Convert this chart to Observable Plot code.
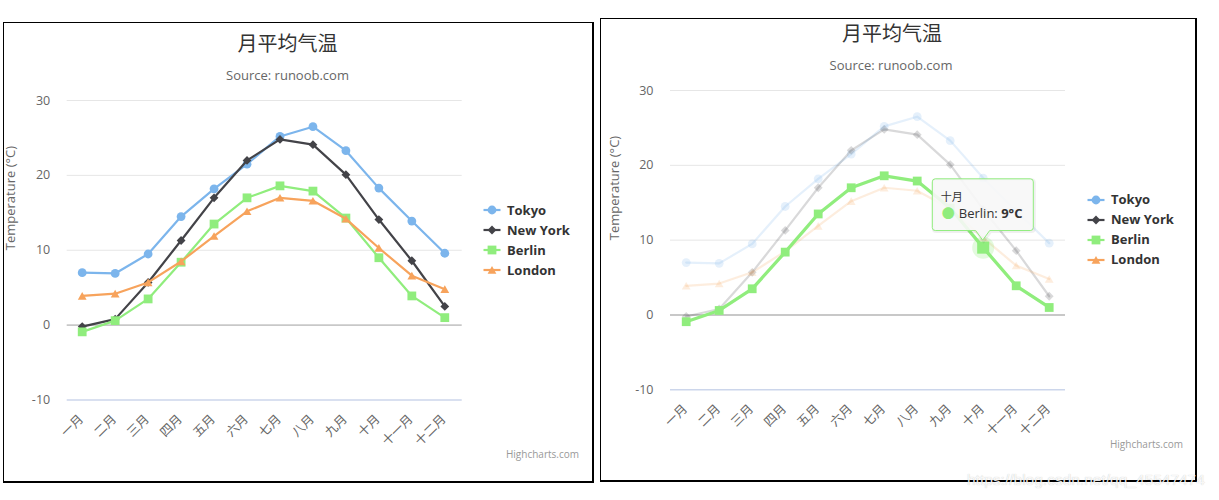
<!DOCTYPE html>
<html>
<head>
<meta charset="utf-8">
<script src="https://cdn.jsdelivr.net/npm/d3@7"></script>
<script src="https://cdn.jsdelivr.net/npm/@observablehq/plot@0.6"></script>
<style>
html, body { margin: 0; padding: 0; background: #fff; }
#root { position: relative; width: 1219px; height: 500px; overflow: hidden;
  font-family: "Open Sans", "Noto Sans CJK SC", sans-serif; }
.panel { position: absolute; box-sizing: border-box; border-style: solid; border-color: #000;
  border-width: 1px 2px 2px 1px; }
.abs { position: absolute; white-space: nowrap; line-height: 1; }
.title { font-size: 20px; color: #333; transform: translate(-50%, -50%); font-family: "Noto Sans CJK SC", sans-serif; }
.subtitle { font-size: 13px; color: #666; transform: translate(-50%, -50%); }
.credits { font-size: 10px; color: #999; transform: translate(-100%, -50%); }
.legend-item { display: flex; align-items: center; transform: translateY(-50%); }
.legend-item span { font-weight: bold; font-size: 13px; color: #333; margin-left: 6px; }
.plotsvg { position: absolute; }
.tip-text { position: absolute; white-space: nowrap; color: #333; line-height: 1; }
.watermark { position: absolute; font-family: "Liberation Sans", Arial, sans-serif; font-size: 15.5px;
  color: rgba(255,255,255,0.9); text-shadow: 0 0 1px rgba(0,0,0,0.25); white-space: nowrap; line-height: 1; }
</style>
</head>
<body>
<div id="root"></div>
<script>
// ---------------- data ----------------
const months = ["一月", "二月", "三月", "四月", "五月", "六月", "七月", "八月", "九月", "十月", "十一月", "十二月"];
const tokyo   = [7.0, 6.9, 9.5, 14.5, 18.2, 21.5, 25.2, 26.5, 23.3, 18.3, 13.9, 9.6];
const newYork = [-0.2, 0.8, 5.7, 11.3, 17.0, 22.0, 24.8, 24.1, 20.1, 14.1, 8.6, 2.5];
const berlin  = [-0.9, 0.6, 3.5, 8.4, 13.5, 17.0, 18.6, 17.9, 14.3, 9.0, 3.9, 1.0];
const london  = [3.9, 4.2, 5.7, 8.5, 11.9, 15.2, 17.0, 16.6, 14.2, 10.3, 6.6, 4.8];
const seriesNames  = ["Tokyo", "New York", "Berlin", "London"];
const seriesValues = [tokyo, newYork, berlin, london];
const seriesColors = ["#7cb5ec", "#434348", "#90ed7d", "#f7a35c"];
const yTicks = [-10, 0, 10, 20, 30];
const titleText = "月平均气温";
const subtitleText = "Source: runoob.com";
const yTitle = "Temperature (°C)";
const valueSuffix = "°C";
const creditsText = "Highcharts.com";
const hoverSeries = 2;   // Berlin
const hoverIndex = 9;    // 十月

// marker shapes (Highcharts default sequence)
const seriesSymbols = [d3.symbolCircle, d3.symbolDiamond2, d3.symbolSquare, d3.symbolTriangle];
const seriesR = [4.4, 3.97, 4.96, 3.27];
const seriesDy = [0, 0, 0, 1.2];

const rows = seriesNames.map((name, s) =>
  months.map((m, i) => ({series: name, s, month: m, value: seriesValues[s][i]})));

const root = document.getElementById("root");

function el(tag, cls, parent, styles, text) {
  const e = document.createElement(tag);
  if (cls) e.className = cls;
  Object.assign(e.style, styles || {});
  if (text != null) e.textContent = text;
  parent.appendChild(e);
  return e;
}

function buildChart(cfg) {
  // border panel
  el("div", "panel", root, {left: cfg.left + "px", top: cfg.top + "px", width: cfg.width + "px", height: cfg.height + "px"});

  const order = cfg.hover ? [0, 1, 3, 2] : [0, 1, 2, 3];
  const marks = [
    Plot.ruleY(yTicks.filter(d => d > 0), {stroke: "#e6e6e6", strokeWidth: 1}),
    Plot.ruleY([0], {stroke: "#c8c8c8", strokeWidth: 1.8}),
    Plot.ruleY([yTicks[0]], {stroke: "#ccd6eb", strokeWidth: 1.5}),
    Plot.text(yTicks, {y: d => d, text: d => String(d), frameAnchor: "left", textAnchor: "end", dx: -17, fill: "#666", fontSize: 12.5}),
    Plot.text(months, {x: d => d, text: d => d, frameAnchor: "bottom", rotate: -45, textAnchor: "end", lineAnchor: "middle", dy: 17, dx: -1, fill: "#666", fontSize: 12.5}),
    Plot.text([yTitle], {text: d => d, frameAnchor: "left", rotate: -90, dx: cfg.yTitleDx, fill: "#666", fontSize: 13})
  ];
  for (const s of order) {
    const faded = cfg.hover && s !== hoverSeries;
    const op = faded ? 0.2 : 1;
    const lw = cfg.hover && s === hoverSeries ? 3.3 : 2.2;
    marks.push(Plot.line(rows[s], {x: "month", y: "value", stroke: seriesColors[s], strokeWidth: lw, strokeOpacity: op, strokeLinejoin: "round", strokeLinecap: "round"}));
    if (cfg.hover && s === hoverSeries) {
      marks.push(Plot.dot([rows[s][hoverIndex]], {x: "month", y: "value", r: 11, fill: seriesColors[s], fillOpacity: 0.25}));
    }
    marks.push(Plot.dot(rows[s], {x: "month", y: "value", symbol: seriesSymbols[s], r: seriesR[s], dy: seriesDy[s], fill: seriesColors[s], fillOpacity: op, stroke: "none"}));
    if (cfg.hover && s === hoverSeries) {
      marks.push(Plot.dot([rows[s][hoverIndex]], {x: "month", y: "value", symbol: seriesSymbols[s], r: 6.8, fill: seriesColors[s], stroke: "none"}));
    }
  }

  const chart = Plot.plot({
    width: cfg.width,
    height: cfg.height,
    marginLeft: cfg.mL, marginRight: cfg.mR, marginTop: cfg.mT, marginBottom: cfg.mB,
    style: {background: "transparent", fontFamily: "'Open Sans','Noto Sans CJK SC',sans-serif", overflow: "visible"},
    x: {type: "point", domain: months, range: cfg.xRange, padding: 0, round: false, axis: null},
    y: {domain: [yTicks[0], yTicks[yTicks.length - 1]], axis: null},
    marks
  });
  chart.classList.add("plotsvg");
  chart.style.left = cfg.left + "px";
  chart.style.top = cfg.top + "px";
  chart.style.maxWidth = "none";
  root.appendChild(chart);

  // title & subtitle
  el("div", "abs title", root, {left: cfg.titleX + "px", top: cfg.titleY + "px"}, titleText);
  el("div", "abs subtitle", root, {left: cfg.subX + "px", top: cfg.subY + "px"}, subtitleText);
  el("div", "abs credits", root, {left: cfg.credX + "px", top: cfg.credY + "px"}, creditsText);

  // legend
  seriesNames.forEach((name, s) => {
    const item = el("div", "abs legend-item", root, {left: cfg.legX + "px", top: (cfg.legY + 20 * s) + "px"});
    const svg = d3.select(item).append("svg").attr("width", 18).attr("height", 14);
    svg.append("line").attr("x1", 0.5).attr("x2", 17.5).attr("y1", 7).attr("y2", 7)
      .attr("stroke", seriesColors[s]).attr("stroke-width", 2.2);
    svg.append("path").attr("transform", `translate(9,${7 + seriesDy[s]})`)
      .attr("d", d3.symbol(seriesSymbols[s], Math.PI * seriesR[s] * seriesR[s])())
      .attr("fill", seriesColors[s]);
    el("span", null, item, {}, name);
  });

  return chart;
}

// left chart (normal)
buildChart({
  left: 3, top: 22, width: 591, height: 461,
  mL: 63.7, mR: 132.3, mT: 78, mB: 83.5, xRange: [78.7, 441.3],
  yTitleDx: -56.7,
  titleX: 287.5, titleY: 42.5, subX: 287.5, subY: 75,
  credX: 579, credY: 454,
  legX: 483, legY: 210,
  hover: false
});

// right chart (Berlin hovered at 十月)
const right = {
  left: 600, top: 18, width: 597, height: 464,
  mL: 70, mR: 132, mT: 72, mB: 92.7, xRange: [85.7, 448.7],
  yTitleDx: -56,
  titleX: 892, titleY: 32.6, subX: 891, subY: 65,
  credX: 1183, credY: 444.3,
  legX: 1087, legY: 199.8,
  hover: true
};
const chartB = buildChart(right);

// tooltip, anchored through the chart's own scales
const px = right.left + chartB.scale("x").apply(months[hoverIndex]);
const py = right.top + chartB.scale("y").apply(seriesValues[hoverSeries][hoverIndex]);
const bx0 = px - 50.4, bx1 = px + 50.6, by0 = py - 68.3, by1 = py - 16.6;
const tipSvg = d3.select(root).append("svg")
  .style("position", "absolute").style("left", 0).style("top", 0)
  .attr("width", 1219).attr("height", 500).style("pointer-events", "none");
const rr = 3;
const pathD = `M${bx0 + rr},${by0} H${bx1 - rr} Q${bx1},${by0} ${bx1},${by0 + rr} V${by1 - rr} Q${bx1},${by1} ${bx1 - rr},${by1}
  H${px + 7} L${px},${py - 7} L${px - 7},${by1} H${bx0 + rr} Q${bx0},${by1} ${bx0},${by1 - rr} V${by0 + rr} Q${bx0},${by0} ${bx0 + rr},${by0} Z`;
tipSvg.append("path").attr("d", pathD).attr("transform", "translate(1,1)")
  .attr("fill", "none").attr("stroke", "rgba(0,0,0,0.06)").attr("stroke-width", 3);
tipSvg.append("path").attr("d", pathD)
  .attr("fill", "rgba(247,247,247,0.9)").attr("stroke", seriesColors[hoverSeries]).attr("stroke-width", 1);

el("div", "tip-text", root, {left: (bx0 + 8.5) + "px", top: (by0 + 17.3) + "px", fontSize: "11px", transform: "translateY(-50%)", fontFamily: "'Noto Sans CJK SC', sans-serif"}, months[hoverIndex]);
const line2 = el("div", "tip-text", root, {left: (bx0 + 9.5) + "px", top: (by0 + 34) + "px", fontSize: "13px", transform: "translateY(-50%)"});
el("span", null, line2, {color: seriesColors[hoverSeries], fontSize: "13px", marginRight: "4px", verticalAlign: "0px"}, "●");
el("span", null, line2, {}, seriesNames[hoverSeries] + ": ");
el("b", null, line2, {}, seriesValues[hoverSeries][hoverIndex] + valueSuffix);

// watermark
el("div", "watermark", root, {left: "967px", top: "472px"}, "https://blog.csdn.net/qq_45547474");
</script>
</body>
</html>
